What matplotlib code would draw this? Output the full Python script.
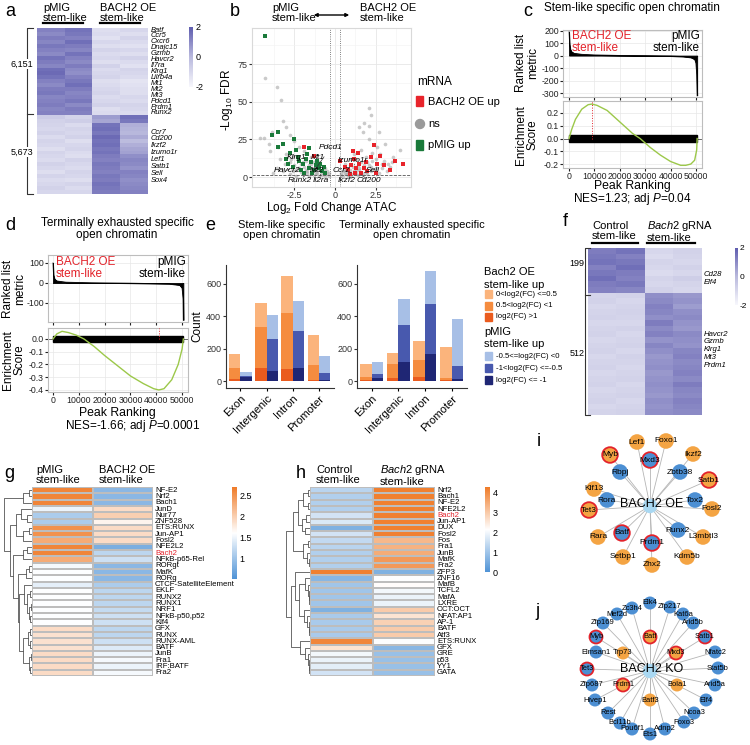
import numpy as np
import matplotlib
matplotlib.use('Agg')
import matplotlib.pyplot as plt
from matplotlib.colors import LinearSegmentedColormap
from matplotlib.patches import Circle, Rectangle

plt.rcParams['font.family'] = ['Liberation Sans', 'DejaVu Sans']
plt.rcParams['mathtext.fontset'] = 'custom'
plt.rcParams['mathtext.rm'] = 'Liberation Sans'
plt.rcParams['mathtext.it'] = 'Liberation Sans:italic'
plt.rcParams['mathtext.bf'] = 'Liberation Sans:bold'
plt.rcParams['axes.unicode_minus'] = False

# ---------------- DATA ----------------
# panel a heatmap (z-scores; cols: pMIG x2, BACH2 OE x2)
a_top = [[1.2, 1.5, -1.2, -1.0], [1.0, 1.4, -1.1, -1.2], [1.3, 1.2, -1.3, -0.9], [1.1, 1.6, -1.0, -1.1],
         [1.4, 1.3, -1.2, -1.3], [1.2, 1.1, -0.9, -1.0], [1.0, 1.5, -1.1, -1.2], [1.5, 1.2, -1.0, -0.8],
         [1.3, 1.0, -1.2, -1.1], [1.1, 1.3, -0.8, -1.3], [1.6, 1.0, -1.1, -0.9], [1.7, 0.9, -1.0, -1.0],
         [1.5, 1.2, -0.9, -1.1], [1.2, 1.4, -1.2, -1.4], [1.0, 1.6, -1.1, -1.3], [1.3, 1.3, -1.0, -1.2],
         [1.4, 1.1, -0.9, -1.2], [1.1, 1.2, -1.1, -1.0], [1.2, 1.4, -1.0, -1.1], [1.3, 1.0, -0.8, -0.9],
         [1.1, 1.3, -1.2, -1.0], [1.2, 1.2, -1.1, -1.1]]
a_bottom = [[-0.6, -0.9, 0.6, 1.6], [-0.8, -0.7, 0.4, 1.4], [-0.9, -1.1, 1.5, 0.2], [-1.0, -0.9, 1.6, 0.1],
            [-0.8, -1.0, 1.4, 0.0], [-1.1, -0.8, 1.7, 0.3], [-0.9, -1.2, 1.5, -0.1], [-1.0, -1.0, 1.6, 0.2],
            [-1.2, -0.9, 1.4, 0.4], [-0.9, -1.1, 1.5, 0.5], [-1.0, -1.2, 1.3, 0.9], [-1.1, -0.8, 1.2, 1.1],
            [-0.8, -1.0, 1.4, 1.0], [-1.0, -1.1, 1.3, 0.8], [-1.2, -0.9, 1.2, 1.2], [-0.9, -1.0, 1.4, 1.1],
            [-1.1, -1.2, 1.3, 0.9], [-1.0, -0.9, 1.5, 1.0], [-0.8, -1.1, 1.4, 1.1], [-1.0, -1.0, 1.3, 1.2]]
a_genes_top = ['Batf', 'Ccr5', 'Cxcr6', 'Dnajc15', 'Gzmb', 'Havcr2', 'Il7ra', 'Klrg1', 'Lilrb4a',
               'Mt1', 'Mt2', 'Mt3', 'Pdcd1', 'Prdm1', 'Runx2']
a_genes_bottom = ['Ccr7', 'Cd200', 'Ikzf2', 'Izumo1r', 'Lef1', 'Satb1', 'Sell', 'Sox4']

# panel b volcano
grey_x = [-4.3, -3.6, -3.3, -4.6, -4.4, -4.1, -3.9, -3.2, -3.0, -2.8, -2.5, -3.5, -4.0, -3.0, -2.6, -2.2,
          -1.9, -1.5, -2.0, -1.6, -1.2, -0.9, -0.7, -0.5, -1.1, -1.4, -1.8, -2.2, -2.5, -2.8, -3.1, -3.4,
          -1.0, -0.6, -0.4, -0.8, -1.3, -1.7, -2.1, -2.4,
          -2.8, -2.6, -2.4, -2.3, -2.0, -1.9, -1.7, -1.6, -1.5, -1.4, -1.2, -1.1, -1.0, -0.9, -0.8, -0.7,
          -0.6, -0.5, -0.4, -2.1, -1.8, -1.3, -2.7, -3.2, -3.6, -3.8,
          0.5, 0.7, 0.9, 1.1, 1.3, 0.6, 1.5, 1.8, 2.0, 2.2, 2.5, 2.8, 3.0, 3.3, 2.6, 2.1, 1.7, 2.1, 1.8,
          1.5, 2.7, 3.1, 3.6, 4.0, 1.2, 0.9, 1.0, 1.6, 2.3, 0.4, 1.9, 2.4, 3.4, 1.4, 0.8, 2.9, 2.2, 2.1,
          0.4, 0.5, 0.6, 0.7, 0.8, 0.9, 1.0, 1.1, 1.2, 1.3, 1.4, 1.5, 1.6, 1.7, 1.8, 1.9, 2.0, 2.1, 2.2,
          2.3, 2.5, 2.7, 2.9, 3.2, 3.5, 1.3, 0.6]
grey_y = [66, 60, 51, 26, 26, 22, 30, 37, 33, 28, 24, 20, 17, 15, 14, 20,
          17, 13, 10, 8, 7, 5, 3, 2, 3, 4, 5, 6, 8, 10, 9, 12,
          10, 6, 1, 1.5, 1.5, 2.5, 3.5, 4.5,
          2, 4, 1, 6, 2, 7, 4, 1, 9, 6, 3, 5, 1, 8, 3, 5,
          1, 4, 2.5, 9, 11, 10, 12, 4, 6, 3,
          1, 2, 3, 2, 4, 5, 6, 8, 10, 7, 12, 15, 11, 9, 20, 25, 30, 46, 36,
          33, 30, 22, 13, 18, 15, 8, 12, 18, 16, 3, 3.5, 5, 7, 1.5, 0.8, 6, 41, 34,
          1.5, 4, 2.5, 6, 3, 5, 1, 7, 4, 2, 8, 5, 10, 2, 6, 13, 2, 8, 4,
          11, 6, 3, 9, 4, 10, 12, 9]
green_x = [-4.3, -3.5, -3.5, -2.5, -2.8, -3.0, -2.3, -2.0, -1.8, -1.5, -1.2, -1.0, -0.8, -1.6, -2.1,
           -2.6, -1.4, -0.6, -1.9, -1.1, -2.4, -3.2, -1.7, -0.9, -2.9, -1.3, -2.2, -1.6, -3.9, -0.7]
green_y = [94, 30, 20, 25, 16, 12, 13, 9, 12, 10, 8, 6, 4, 6, 5,
           7, 3, 2.5, 3, 11, 18, 22, 15, 9, 9, 5, 11, 19, 28, 7]
red_x = [1.4, 2.4, 4.2, 3.7, 1.25, 0.3, -1.9, 1.0, 1.2, 1.5, 1.8, 2.0, 2.2, 1.6, 0.8, 2.6, 3.0, 1.3,
         0.9, 2.8, 1.9, 0.6, -1.3, 2.5, 1.1, 3.4]
red_y = [16, 21, 9, 11, 3, 11, 20, 8, 12, 9, 6, 4, 13, 3, 5, 9, 8, 6,
         2, 14, 10, 7, 14, 2.5, 17, 5]
b_labels = ['Pdcd1', 'Klrg1', 'Mt1', 'Havcr2', 'Mt2', 'Runx2', 'Il2ra',
            'Izumo1r', 'Ccr7', 'Sell', 'Ikzf2', 'Cd200']
b_label_pts = [(-1.1, 7), (-2.3, 9), (-1.3, 5), (-2.8, 5), (-1.3, 3), (-1.8, 1.5), (-0.9, 2),
               (1.2, 8), (1.0, 3), (1.8, 3), (0.9, 1), (1.6, 1.5)]

# panel c / d GSEA
c_rank = [0, 200, 500, 1000, 2000, 5000, 10000, 20000, 30000, 40000, 45000, 48000, 49500, 50000, 50300, 50500]
c_metric = [190, 90, 50, 30, 18, 10, 5, 1, -1, -4, -8, -15, -30, -60, -150, -320]
c_es_rank = [0, 1000, 2500, 5000, 7500, 9000, 11000, 15000, 20000, 25000, 28000, 32000, 36000, 40000,
             44000, 46000, 48000, 49500, 50300, 50500]
c_es = [0, 0.07, 0.15, 0.23, 0.265, 0.27, 0.26, 0.22, 0.13, 0.04, 0.0, -0.07, -0.13, -0.18,
        -0.21, -0.21, -0.20, -0.17, -0.09, 0.0]
d_rank = [0, 200, 600, 1500, 5000, 15000, 30000, 45000, 49000, 50000, 50400, 50500]
d_metric = [100, 40, 20, 10, 4, 1, -1, -4, -10, -25, -80, -185]
d_es_rank = [0, 1500, 3500, 6000, 9000, 12000, 16000, 20000, 25000, 30000, 35000, 39000, 41000,
             43000, 46000, 48500, 50000, 50500]
d_es = [0, 0.04, 0.06, 0.05, 0.03, 0.0, -0.06, -0.13, -0.21, -0.29, -0.35, -0.39, -0.40,
        -0.39, -0.32, -0.20, -0.08, 0.0]

# panel e bars
e_cats = ['Exon', 'Intergenic', 'Intron', 'Promoter']
stem_oe_dark = [12, 80, 74, 5]
stem_oe_mid = [68, 254, 346, 94]
stem_oe_light = [87, 148, 230, 186]
stem_pmig_dark = [22, 62, 80, 8]
stem_pmig_mid = [10, 198, 229, 40]
stem_pmig_light = [24, 148, 186, 107]
term_oe_dark = [8, 18, 28, 5]
term_oe_mid = [14, 85, 102, 15]
term_oe_light = [83, 72, 118, 188]
term_pmig_dark = [18, 117, 168, 12]
term_pmig_mid = [24, 228, 307, 83]
term_pmig_light = [76, 162, 205, 288]

# panel f heatmap
f_top = [[1.3, 1.5, -1.0, -0.8], [1.4, 1.2, -1.1, -0.9], [1.5, 1.4, -0.9, -1.0], [1.2, 1.6, -1.0, -0.8],
         [1.4, 1.3, -1.1, -1.0], [1.6, 1.2, -0.9, -0.7], [1.3, 1.4, -1.0, -0.9], [1.2, 1.1, -0.8, -1.0]]
f_bottom = [[-0.9, -0.8, 0.9, 0.7], [-0.8, -1.0, 1.0, 0.8], [-1.0, -0.9, 1.2, 0.6], [-0.9, -0.8, 1.1, 0.9],
            [-0.8, -0.9, 0.9, 1.0], [-1.0, -1.0, 1.3, 0.8], [-0.9, -0.8, 1.0, 0.7], [-0.8, -1.0, 1.2, 1.0],
            [-1.0, -0.9, 0.8, 0.9], [-0.9, -0.8, 1.1, 0.8], [-0.8, -1.0, 0.9, 1.1], [-1.0, -0.8, 0.7, 1.2],
            [-0.9, -0.9, 0.8, 1.0], [-0.8, -1.0, 0.9, 1.1], [-1.0, -0.9, 0.7, 1.2], [-0.9, -0.8, 0.8, 1.0],
            [-0.8, -1.0, 0.9, 1.3], [-1.0, -0.9, 0.8, 1.1], [-0.9, -0.8, 0.7, 1.0], [-0.8, -1.0, 0.9, 1.2],
            [-1.0, -0.9, 0.8, 1.1], [-0.9, -0.8, 0.9, 1.0]]
f_genes_top = ['Cd28', 'Elf4']
f_genes_bottom = ['Havcr2', 'Gzmb', 'Klrg1', 'Mt3', 'Prdm1']

# panel g motif heatmap
g_motifs = ['NF-E2', 'Nrf2', 'Bach1', 'JunD', 'Nur77', 'ZNF528', 'ETS:RUNX', 'Jun-AP1', 'Fosl2',
            'NFE2L2', 'Bach2', 'NFkB-p65-Rel', 'RORgt', 'MafK', 'RORg', 'CTCF-SatelliteElement', 'EKLF',
            'RUNX2', 'RUNX1', 'NRF1', 'NFkB-p50,p52', 'Klf4', 'GFX', 'RUNX', 'RUNX-AML', 'BATF', 'JunB',
            'Fra1', 'IRF:BATF', 'Fra2']
g_pmig = [2.6, 2.6, 2.6, 1.5, 1.1, 1.1, 2.5, 2.5, 2.3, 2.6, 2.6, 2.3, 1.55, 1.6, 1.6, 1.45, 1.6,
          1.6, 1.6, 1.6, 1.6, 1.6, 1.9, 1.85, 1.85, 1.85, 1.9, 1.9, 1.9, 1.9]
g_oe = [0.9, 0.9, 0.9, 1.9, 2.0, 1.7, 1.9, 1.9, 1.9, 0.8, 1.2, 1.3, 0.9, 0.9, 0.9, 1.1, 1.2,
        1.2, 1.2, 1.25, 1.3, 1.3, 1.2, 1.2, 1.3, 1.4, 1.5, 1.55, 1.5, 1.55]
gA = [0.3, [0.1, 0, 1], 2]
gB = [0.35, 3, [0.15, 4, 5]]
gC = [0.3, [0.1, 6, 7], 8]
gD = [0.3, [0.15, 9, 10], 11]
gE = [0.2, [0.08, 12, 13], 14]
gF = [0.25, 15, [0.15, [0.05, 16, 17], [0.08, [0.03, 18, 19], [0.05, 20, 21]]]]
gG = [0.3, [0.12, [0.05, 22, 23], [0.06, 24, 25]], [0.1, [0.04, 26, 27], [0.05, 28, 29]]]
g_tree = [0.9, gA, [0.7, [0.5, gB, gC], [0.6, gD, [0.45, gE, [0.4, gF, gG]]]]]

# panel h motif heatmap
h_motifs = ['Nrf2', 'Bach1', 'NF-E2', 'NFE2L2', 'Bach2', 'Jun-AP1', 'DUX', 'Fosl2', 'Fos', 'Fra1',
            'JunB', 'MafK', 'Fra2', 'ZFP3', 'ZNF16', 'MafB', 'TCFL2', 'MafA', 'LXRE', 'OCT:OCT',
            'NFAT:AP1', 'AP-1', 'BATF', 'Atf3', 'ETS:RUNX', 'GFX', 'GRE', 'p53', 'YY1', 'GATA']
h_ctrl = [1.3, 1.2, 1.2, 1.2, 1.6, 1.7, 0.6, 1.6, 1.4, 1.3, 1.2, 1.2, 1.2, 4.2, 0.7, 1.0, 1.0, 1.0,
          1.0, 0.6, 1.1, 1.1, 1.1, 1.1, 4.1, 2.6, 2.0, 1.9, 1.8, 1.6]
h_ko = [4.2, 4.2, 4.2, 4.2, 4.2, 4.2, 4.2, 4.2, 3.3, 3.4, 3.5, 3.8, 3.8, 0.6, 2.1, 2.2, 2.0, 1.9,
        1.9, 3.0, 2.6, 2.9, 3.0, 3.0, 2.1, 0.7, 0.9, 0.9, 0.9, 0.9]
hA = [0.5, [0.3, [0.1, 0, 1], [0.1, 2, 3]], [0.35, [0.15, 4, 5], [0.2, 6, 7]]]
hB = [0.3, [0.1, 8, 9], [0.12, 10, [0.05, 11, 12]]]
hC = [0.6, 13, [0.45, [0.2, 14, [0.1, 15, [0.05, 16, [0.03, 17, 18]]]],
                [0.25, 19, [0.12, 20, [0.06, 21, [0.04, 22, 23]]]]]]
hD = [0.4, 24, [0.2, 25, [0.1, 26, [0.06, 27, [0.03, 28, 29]]]]]
h_tree = [1.0, [0.7, hA, hB], [0.8, hC, hD]]

# networks i / j
i_nodes = ['Lef1', 'Foxo1', 'Myb', 'Mxd3', 'Ikzf2', 'Rbpj', 'Zbtb38', 'Satb1', 'Klf13', 'Rora', 'Tox2',
           'Tet3', 'Fosl2', 'Rara', 'Batf', 'Runx2', 'L3mbtl3', 'Prdm1', 'Setbp1', 'Kdm5b', 'Zhx2']
i_type = ['up', 'up', 'up', 'down', 'up', 'down', 'down', 'up', 'up', 'down', 'down',
          'up', 'up', 'up', 'down', 'down', 'up', 'down', 'up', 'up', 'up']
i_ring = ['Myb', 'Mxd3', 'Satb1', 'Tet3', 'Batf', 'Prdm1']
j_nodes = ['Elk4', 'Zfp217', 'Zc3h4', 'Mef2d', 'Kat6a', 'Zfp169', 'Arid5b', 'Myb', 'Batf', 'Satb1',
           'Elmsan1', 'Trp73', 'Mxd3', 'Nfatc2', 'Tet3', 'Stat5b', 'Zfp687', 'Prdm1', 'Bola1', 'Arid5a',
           'Hivep1', 'Batf3', 'Elf4', 'Rest', 'Ncoa3', 'Bcl11b', 'Foxo3', 'Pou6f1', 'Adnp2', 'Ets1']
j_up = ['Batf', 'Trp73', 'Mxd3', 'Prdm1', 'Bola1', 'Batf3']
j_ring = ['Myb', 'Batf', 'Satb1', 'Mxd3', 'Tet3', 'Prdm1']

# ---------------- LAYOUT (pixels) ----------------
W, H = 750, 745
i_layout = [(637, 442), (666, 441), (610, 455), (650, 460), (693, 454), (620, 472), (680, 472), (709, 480),
            (594, 489), (607, 500), (695, 500), (589, 510), (712, 509), (598, 537), (622, 533), (678, 530),
            (703, 537), (652, 543), (623, 557), (687, 557), (652, 565)]
j_layout = [(650, 603), (670, 607), (632, 608), (617, 614), (683, 614), (603, 623), (693, 623), (596, 637),
            (650, 637), (705, 637), (596, 652), (623, 653), (676, 653), (715, 652), (587, 669), (718, 668),
            (592, 685), (623, 685), (677, 685), (715, 685), (595, 700), (650, 700), (706, 700), (608, 713),
            (694, 713), (620, 723), (684, 722), (632, 729), (665, 729), (650, 734)]

fig = plt.figure(figsize=(7.5, 7.45), dpi=100)


def add_ax(x0, y0, x1, y1):
    return fig.add_axes([x0 / W, 1 - y1 / H, (x1 - x0) / W, (y1 - y0) / H])


ov = fig.add_axes([0, 0, 1, 1])
ov.set_xlim(0, W)
ov.set_ylim(H, 0)
ov.axis('off')
ov.patch.set_alpha(0)
ov.set_zorder(20)

RED = '#e3232b'
cmap_pur = LinearSegmentedColormap.from_list('pur', ['#f7f7fc', '#b9b9dd', '#5f5daf'])
cmap_bo = LinearSegmentedColormap.from_list('bo', ['#4f93d6', '#ffffff', '#ef7b28'])


def T(x, y, s, **kw):
    kw.setdefault('fontsize', 8)
    return ov.text(x, y, s, **kw)


def panel_letter(x, y, s):
    T(x, y, s, fontsize=13, ha='left', va='center')


# ---------- panel a ----------
panel_letter(5, 12, 'a')
axA = add_ax(37, 28, 148, 194)
imA = axA.imshow(np.array(a_top + a_bottom), aspect='auto', cmap=cmap_pur, vmin=-2, vmax=2,
                 interpolation='nearest')
axA.axis('off')
T(43, 13, 'pMIG\nstem-like', ha='left', va='center', linespacing=0.95)
T(100, 13, 'BACH2 OE\nstem-like', ha='left', va='center', linespacing=0.95)
ov.plot([43, 83], [22.5, 22.5], color='k', lw=1.6)
ov.plot([100, 140], [22.5, 22.5], color='k', lw=1.6)
for k, g in enumerate(a_genes_top):
    T(151, 30 + k * (83 / 14), g, fontsize=5.4, style='italic', va='center')
for k, g in enumerate(a_genes_bottom):
    T(151, 132 + k * (48 / 7), g, fontsize=5.4, style='italic', va='center')
ov.plot([33, 27, 27, 33], [28, 28, 194, 194], color='#333333', lw=0.8)
ov.plot([27, 33], [114, 114], color='#333333', lw=0.8)
T(22, 64, '6,151', fontsize=6.5, ha='center', va='center', bbox=dict(fc='white', ec='none', pad=0.5))
T(22, 152, '5,673', fontsize=6.5, ha='center', va='center', bbox=dict(fc='white', ec='none', pad=0.5))
caxA = add_ax(189, 27, 193, 87)
cb = fig.colorbar(imA, cax=caxA, ticks=[-2, 0, 2])
cb.outline.set_visible(False)
caxA.tick_params(length=0, labelsize=6.5, pad=2)

# ---------- panel b ----------
panel_letter(230, 12, 'b')
axB = add_ax(252, 28, 411, 187)
axB.scatter(grey_x, grey_y, s=7, color='#a8a8a8', alpha=0.6, lw=0, zorder=2)
axB.scatter(green_x, green_y, s=7, marker='s', color='#1a7a3a', lw=0, zorder=3)
axB.scatter(red_x, red_y, s=7, marker='s', color='#e8242b', lw=0, zorder=3)
axB.axvline(-0.3, color='#555555', lw=0.6, ls=':')
axB.axvline(0.3, color='#555555', lw=0.6, ls=':')
axB.axhline(1.3, color='#555555', lw=0.6, ls='--')
axB.set_xlim(-5.12, 4.69)
axB.set_ylim(-6.6, 99)
axB.set_xticks([-2.5, 0, 2.5])
axB.set_xticklabels(['-2.5', '0', '2.5'])
axB.set_yticks([0, 25, 50, 75])
axB.set_xticks([-3.75, -1.25, 1.25, 3.75], minor=True)
axB.set_yticks([12.5, 37.5, 62.5, 87.5], minor=True)
axB.grid(True, which='major', color='#e6e6e6', lw=0.6)
axB.grid(True, which='minor', color='#f2f2f2', lw=0.4)
axB.set_axisbelow(True)
axB.tick_params(labelsize=6.5, length=2, colors='#333333', pad=1, which='major')
axB.tick_params(which='minor', length=0)
for s in axB.spines.values():
    s.set_color('#d9d9d9')
    s.set_linewidth(0.8)
label_pos = [(-0.25, 19.9), (-2.35, 13.3), (-1.05, 13.3), (-2.96, 4.6), (-1.11, 4.6), (-2.16, -2.0),
             (-0.86, -2.0), (1.11, 11.3), (0.37, 4.6), (2.35, 4.6), (0.74, -2.0), (2.1, -2.0)]
for name, pt, lp in zip(b_labels, b_label_pts, label_pos):
    axB.annotate(name, xy=pt, xytext=lp, fontsize=6, style='italic', ha='center', va='center',
                 arrowprops=dict(arrowstyle='-', lw=0.5, color='#333333', shrinkA=3, shrinkB=0), zorder=5)
T(227, 100, r'-Log$_{10}$ FDR', fontsize=8.5, rotation=90, ha='center', va='center')
T(332, 208, r'Log$_2$ Fold Change ATAC', fontsize=8.5, ha='center', va='center')
T(272, 13, 'pMIG\nstem-like', ha='left', va='center', linespacing=0.95)
T(360, 13, 'BACH2 OE\nstem-like', ha='left', va='center', linespacing=0.95)
ov.annotate('', xy=(352, 15), xytext=(311, 15), arrowprops=dict(arrowstyle='<|-|>', lw=1.0, color='k',
                                                                  mutation_scale=5))
T(417, 82, 'mRNA', fontsize=8.5, va='center')
ov.add_patch(Rectangle((416, 96), 7, 10, color='#e8242b'))
T(428, 102, 'BACH2 OE up', fontsize=8, va='center')
ov.add_patch(Circle((420, 124), 4.5, color='#9a9a9a'))
T(428, 124, 'ns', fontsize=8, va='center')
ov.add_patch(Rectangle((416, 140), 7, 10, color='#1a7a3a'))
T(428, 145, 'pMIG up', fontsize=8, va='center')


# ---------- GSEA helper ----------
def gsea(top_box, bot_box, rank, metric, es_rank, es, mt_lim, mt_ticks, es_lim, es_ticks, red_x, xlim):
    axT = add_ax(*top_box)
    axE = add_ax(*bot_box)
    axT.fill_between(rank, metric, 0, color='black', lw=0.6)
    axT.plot(rank, metric, color='black', lw=0.6)
    axT.set_ylim(*mt_lim)
    axT.set_yticks(mt_ticks)
    axT.set_xticks([0, 10000, 20000, 30000, 40000, 50000])
    axT.set_xticklabels([])
    axE.add_patch(Rectangle((0, -0.026), 50500, 0.05, color='black', zorder=3))
    axE.axhline(0, color='#555555', lw=0.6, zorder=2)
    axE.plot(es_rank, es, color='#9cc84a', lw=1.0, zorder=4)
    axE.plot([red_x, red_x], [0, es_lim[1]], color=RED, lw=0.7, ls=':', zorder=5)
    axE.set_ylim(*es_lim)
    axE.set_yticks(es_ticks)
    axE.set_yticklabels(['%.1f' % v for v in es_ticks])
    axE.set_xticks([0, 10000, 20000, 30000, 40000, 50000])
    for ax in (axT, axE):
        ax.set_xlim(*xlim)
        ax.grid(True, color='#e8e8e8', lw=0.5)
        ax.set_axisbelow(True)
        ax.tick_params(labelsize=6.3, length=2, pad=1, colors='#222222')
        for s in ax.spines.values():
            s.set_color('#bdbdbd')
            s.set_linewidth(0.8)
    return axT, axE


# ---------- panel c ----------
panel_letter(523, 12, 'c')
T(632, 8, 'Stem-like specific open chromatin', fontsize=8.5, ha='center', va='center')
gsea((563, 30, 702, 97), (563, 101, 702, 168), c_rank, c_metric, c_es_rank, c_es,
     (-332, 205), [-300, -200, -100, 0, 100, 200], (-0.231, 0.294), [-0.2, -0.1, 0.0, 0.1, 0.2],
     9000, (-2400, 52400))
T(572, 42, 'BACH2 OE\nstem-like', fontsize=8.5, color=RED, va='center', linespacing=0.95)
T(700, 42, 'pMIG\nstem-like', fontsize=8.5, ha='right', va='center', linespacing=0.95)
T(527, 63, 'Ranked list\nmetric', fontsize=8.5, rotation=90, ha='center', va='center', linespacing=0.95)
T(527, 135, 'Enrichment\nScore', fontsize=8.5, rotation=90, ha='center', va='center', linespacing=0.95)
T(632, 186, 'Peak Ranking', fontsize=8.8, ha='center', va='center')
T(632, 199, r'NES=1.23; adj $\it{P}$=0.04', fontsize=8.5, ha='center', va='center')

# ---------- panel d ----------
panel_letter(5, 226, 'd')
T(117, 229, 'Terminally exhausted specific\nopen chromatin', fontsize=8.5, ha='center', va='center',
  linespacing=0.95)
gsea((48, 255, 188, 322), (48, 328, 188, 392), d_rank, d_metric, d_es_rank, d_es,
     (-195, 140), [-100, 0, 100], (-0.416, 0.086), [-0.4, -0.3, -0.2, -0.1, 0.0],
     41000, (-1940, 52300))
T(56, 268, 'BACH2 OE\nstem-like', fontsize=8.5, color=RED, va='center', linespacing=0.95)
T(186, 268, 'pMIG\nstem-like', fontsize=8.5, ha='right', va='center', linespacing=0.95)
T(14, 289, 'Ranked list\nmetric', fontsize=8.5, rotation=90, ha='center', va='center', linespacing=0.95)
T(14, 360, 'Enrichment\nScore', fontsize=8.5, rotation=90, ha='center', va='center', linespacing=0.95)
T(117, 413, 'Peak Ranking', fontsize=8.8, ha='center', va='center')
T(133, 426, r'NES=-1.66; adj $\it{P}$=0.0001', fontsize=8.5, ha='center', va='center')

# ---------- panel e ----------
panel_letter(205, 226, 'e')
T(282, 230, 'Stem-like specific\nopen chromatin', fontsize=8, ha='center', va='center', linespacing=0.95)
T(412, 230, 'Terminally exhausted specific\nopen chromatin', fontsize=8, ha='center', va='center',
  linespacing=0.95)
OR = ['#ea5b1e', '#f58c3f', '#fbb47c']
BL = ['#1f2674', '#4859ae', '#a7bfe6']


def stacked(ax, xs, segs, cols):
    bottom = np.zeros(len(xs))
    for seg, c in zip(segs, cols):
        ax.bar(xs, seg, bottom=bottom, width=0.43, color=c, lw=0)
        bottom = bottom + np.array(seg)


for box, oe, pm in [((226, 265, 334, 388), (stem_oe_dark, stem_oe_mid, stem_oe_light),
                     (stem_pmig_dark, stem_pmig_mid, stem_pmig_light)),
                    ((357, 265, 467, 388), (term_oe_dark, term_oe_mid, term_oe_light),
                     (term_pmig_dark, term_pmig_mid, term_pmig_light))]:
    ax = add_ax(*box)
    xs = np.arange(len(e_cats))
    stacked(ax, xs - 0.215, oe, OR)
    stacked(ax, xs + 0.215, pm, BL)
    ax.set_xlim(-0.55, 3.58)
    ax.set_ylim(-43, 717)
    ax.set_yticks([0, 200, 400, 600])
    ax.set_xticks(xs)
    ax.set_xticklabels(e_cats, rotation=45, ha='right', rotation_mode='anchor', fontsize=8)
    ax.tick_params(axis='y', labelsize=6.5, length=2, pad=1.5, colors='#333333')
    ax.tick_params(axis='x', length=2, pad=2)
    for s in ['top', 'right']:
        ax.spines[s].set_visible(False)
    for s in ['left', 'bottom']:
        ax.spines[s].set_color('#333333')
        ax.spines[s].set_linewidth(0.8)
    if box[0] == 226:
        ax.set_ylabel('Count', fontsize=8.5, labelpad=2)

T(484, 272, 'Bach2 OE', fontsize=8, va='center')
T(484, 285, 'stem-like up', fontsize=8, va='center')
leg_or = ['0<log2(FC) <=0.5', '0.5<log2(FC) <1', 'log2(FC) >1']
for k, (lab, c) in enumerate(zip(leg_or, OR[::-1])):
    ov.add_patch(Rectangle((485, 290 + k * 11.5), 7, 8, color=c))
    T(496, 294 + k * 11.5, lab, fontsize=5.6, va='center')
T(484, 332, 'pMIG', fontsize=8, va='center')
T(484, 344, 'stem-like up', fontsize=8, va='center')
leg_bl = ['-0.5<=log2(FC) <0', '-1<log2(FC) <=-0.5', 'log2(FC) <= -1']
for k, (lab, c) in enumerate(zip(leg_bl, BL[::-1])):
    ov.add_patch(Rectangle((485, 352 + k * 12), 7, 8, color=c))
    T(496, 356 + k * 12, lab, fontsize=5.6, va='center')

# ---------- panel f ----------
panel_letter(563, 222, 'f')
axF = add_ax(588, 248, 701, 415)
imF = axF.imshow(np.array(f_top + f_bottom), aspect='auto', cmap=cmap_pur, vmin=-2, vmax=2,
                 interpolation='nearest')
axF.axis('off')
T(592, 231, 'Control\nstem-like', ha='left', va='center', linespacing=0.95)
T(647, 231, '$\\it{Bach2}$ gRNA\nstem-like', ha='left', va='center', linespacing=0.95)
ov.plot([592, 638], [242.5, 242.5], color='k', lw=1.6)
ov.plot([647, 695], [242.5, 242.5], color='k', lw=1.6)
ov.plot([590, 585, 585, 590], [248, 248, 415, 415], color='#333333', lw=0.8)
ov.plot([585, 590], [295, 295], color='#333333', lw=0.8)
T(577, 264, '199', fontsize=6.5, ha='center', va='center', bbox=dict(fc='white', ec='none', pad=0.5))
T(577, 354, '512', fontsize=6.5, ha='center', va='center', bbox=dict(fc='white', ec='none', pad=0.5))
for k, g in enumerate(f_genes_top):
    T(704, 275 + k * 8, g, fontsize=5.6, style='italic', va='center')
for k, g in enumerate(f_genes_bottom):
    T(704, 334 + k * 7.8, g, fontsize=5.6, style='italic', va='center')
caxF = add_ax(735, 248, 738, 305)
cb = fig.colorbar(imF, cax=caxF, ticks=[-2, 0, 2])
cb.outline.set_visible(False)
caxF.tick_params(length=0, labelsize=6, pad=1.5)


# ---------- dendrogram helper ----------
def draw_tree(ax, node):
    if isinstance(node, int):
        return node + 0.5, 0.0
    h, l, r = node
    yl, hl = draw_tree(ax, l)
    yr, hr = draw_tree(ax, r)
    ax.plot([hl, h, h, hr], [yl, yl, yr, yr], color='#555555', lw=0.6)
    return (yl + yr) / 2, h


def motif_panel(heat_box, den_box, cbar_box, tree, c1, c2, names, vmin, vmax, cticks):
    axH = add_ax(*heat_box)
    data = np.array([c1, c2]).T
    n = len(names)
    m = axH.pcolormesh(np.arange(3), np.arange(n + 1), data, cmap=cmap_bo, vmin=vmin, vmax=vmax,
                       edgecolors='#bdbdbd', linewidth=0.3)
    axH.set_ylim(n, 0)
    axH.set_xlim(0, 2)
    axH.axis('off')
    axD = add_ax(*den_box)
    draw_tree(axD, tree)
    axD.set_xlim(tree[0] * 1.03, 0)
    axD.set_ylim(n, 0)
    axD.axis('off')
    rh = (heat_box[3] - heat_box[1]) / n
    for k, nm in enumerate(names):
        T(heat_box[2] + 2, heat_box[1] + (k + 0.5) * rh, nm, fontsize=5.6, va='center',
          color=RED if nm == 'Bach2' else 'black')
    cax = add_ax(*cbar_box)
    cb = fig.colorbar(m, cax=cax, ticks=cticks)
    cb.outline.set_visible(False)
    cax.tick_params(length=0, labelsize=6.5, pad=2)
    cax.set_yticklabels([('%g' % t) for t in cticks])


# ---------- panel g ----------
panel_letter(4, 474, 'g')
T(36, 475, 'pMIG\nstem-like', ha='left', va='center', linespacing=0.95)
T(99, 475, 'BACH2 OE\nstem-like', ha='left', va='center', linespacing=0.95)
motif_panel((32, 487, 153, 676), (3, 487, 32, 676), (232, 487, 237, 579), g_tree, g_pmig, g_oe, g_motifs,
            0.53, 2.69, [1, 1.5, 2, 2.5])

# ---------- panel h ----------
panel_letter(296, 474, 'h')
T(316, 475, 'Control\nstem-like', ha='left', va='center', linespacing=0.95)
T(380, 475, '$\\it{Bach2}$ gRNA\nstem-like', ha='left', va='center', linespacing=0.95)
motif_panel((310, 487, 435, 676), (285, 487, 310, 676), (485, 487, 490, 572), h_tree, h_ctrl, h_ko,
            h_motifs, 0.0, 4.3, [0, 1, 2, 3, 4])

# ---------- networks ----------
ORN = '#f4a443'
BLN = '#4c8fd3'


def network(center, ctext, names, layout, colors, rings, r, fs):
    cx, cy = center
    for (x, y) in layout:
        ov.plot([cx, x], [cy, y], color='#b5b5b5', lw=0.6, zorder=1)
    ov.add_patch(Circle((cx, cy), 6.5, color='#a9d8f2', zorder=2))
    for nm, (x, y), c in zip(names, layout, colors):
        ring = nm in rings
        ov.add_patch(Circle((x, y), r, facecolor=c, edgecolor=RED if ring else 'none',
                            lw=1.3 if ring else 0, zorder=3))
        T(x, y, nm, fontsize=fs, ha='center', va='center', zorder=4)
    T(cx + 2, cy - 2, ctext, fontsize=9, ha='center', va='center', zorder=5)


panel_letter(537, 442, 'i')
network((650, 506), 'BACH2 OE', i_nodes, i_layout, [ORN if t == 'up' else BLN for t in i_type], i_ring,
        7.8, 6)
panel_letter(535, 612, 'j')
network((650, 671), 'BACH2 KO', j_nodes, j_layout, [ORN if n in j_up else BLN for n in j_nodes], j_ring,
        6.5, 5.4)

fig.savefig('out.png', dpi=100)
